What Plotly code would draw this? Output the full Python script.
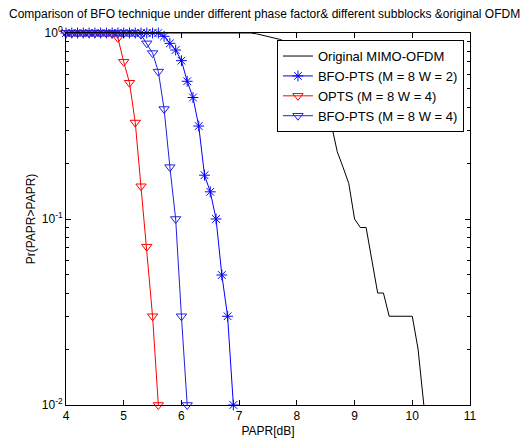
import plotly.graph_objects as go

# ---- data ----
orig_x = [4.0, 7.2, 7.3, 7.4, 7.5, 7.6, 7.7, 7.8, 7.9, 8.0, 8.1, 8.2, 8.3, 8.4, 8.5,
          8.6, 8.7, 8.8, 8.9, 9.0, 9.1, 9.2, 9.3, 9.4, 9.5, 9.6, 9.7, 9.8, 9.9,
          10.0, 10.1, 10.2]
orig_y = [1.0, 1.0, 0.99, 0.975, 0.96, 0.945, 0.925, 0.90, 0.86, 0.81, 0.75, 0.68,
          0.60, 0.50, 0.41, 0.32, 0.23, 0.19, 0.155, 0.10, 0.09, 0.09, 0.06, 0.04,
          0.04, 0.03, 0.03, 0.03, 0.03, 0.03, 0.02, 0.01]

bfo2_x = [4.0, 4.1, 4.2, 4.3, 4.4, 4.5, 4.6, 4.7, 4.8, 4.9, 5.0, 5.1, 5.2, 5.3, 5.4,
          5.5, 5.6, 5.7, 5.8, 5.9, 6.0, 6.1, 6.2, 6.3, 6.4, 6.5, 6.6, 6.7, 6.8, 6.9]
bfo2_y = [1, 1, 1, 1, 1, 1, 1, 1, 1, 1, 1, 1, 1, 1, 1, 1, 1,
          0.96, 0.88, 0.81, 0.71, 0.55, 0.45, 0.316, 0.172, 0.14, 0.10, 0.05, 0.03, 0.01]

opts_x = [4.0, 4.1, 4.2, 4.3, 4.4, 4.5, 4.6, 4.7, 4.8, 4.9, 5.0, 5.1, 5.2, 5.3, 5.4,
          5.5, 5.6]
opts_y = [1, 1, 1, 1, 1, 1, 1, 1, 0.99, 0.94, 0.70, 0.54, 0.33, 0.15, 0.071, 0.03, 0.01]

bfo4_x = [4.0, 4.1, 4.2, 4.3, 4.4, 4.5, 4.6, 4.7, 4.8, 4.9, 5.0, 5.1, 5.2, 5.3, 5.4,
          5.5, 5.6, 5.7, 5.8, 5.9, 6.0, 6.1]
bfo4_y = [1, 1, 1, 1, 1, 1, 1, 1, 1, 1, 1, 1, 1,
          0.98, 0.88, 0.78, 0.62, 0.39, 0.19, 0.10, 0.03, 0.01]

x_ticks = [4, 5, 6, 7, 8, 9, 10, 11]
y_ticks = [0.01, 0.1, 1]
y_ticktext = ["10<sup>-2</sup>", "10<sup>-1</sup>", "10<sup>0</sup>"]
y_minor = [0.02, 0.03, 0.04, 0.05, 0.06, 0.07, 0.08, 0.09,
           0.2, 0.3, 0.4, 0.5, 0.6, 0.7, 0.8, 0.9]

FONT = "Liberation Sans, Arial, Helvetica, sans-serif"

fig = go.Figure()
fig.add_trace(go.Scatter(x=orig_x, y=orig_y, mode="lines", name="Original MIMO-OFDM",
                         line=dict(color="black", width=1), cliponaxis=True))
fig.add_trace(go.Scatter(x=bfo2_x, y=bfo2_y, mode="lines+markers",
                         name="BFO-PTS (M = 8 W = 2)",
                         line=dict(color="#0000ff", width=1),
                         marker=dict(symbol="asterisk-open", size=9,
                                     line=dict(color="#0000ff", width=1)),
                         cliponaxis=False))
fig.add_trace(go.Scatter(x=opts_x, y=opts_y, mode="lines+markers",
                         name="OPTS (M = 8 W = 4)",
                         line=dict(color="#ff0000", width=1),
                         marker=dict(symbol="triangle-down-open", size=9,
                                     line=dict(color="#ff0000", width=1)),
                         cliponaxis=False))
fig.add_trace(go.Scatter(x=bfo4_x, y=bfo4_y, mode="lines+markers",
                         name="BFO-PTS (M = 8 W = 4)",
                         line=dict(color="#2020e0", width=1),
                         marker=dict(symbol="triangle-down-open", size=9,
                                     line=dict(color="#2020e0", width=1)),
                         cliponaxis=False))

axis_common = dict(showline=True, linecolor="black", linewidth=1, mirror="ticks",
                   ticks="inside", ticklen=5, tickcolor="black", showgrid=False,
                   zeroline=False, automargin=False,
                   tickfont=dict(family=FONT, size=12, color="black"))

fig.update_layout(
    width=532, height=443,
    paper_bgcolor="white", plot_bgcolor="white",
    margin=dict(l=66, r=62, t=33, b=38),
    font=dict(family=FONT, size=12, color="black"),
    title=dict(text="Comparison of BFO technique under different phase factor& different subblocks &original OFDM",
               xref="container", x=9 / 532, xanchor="left",
               yref="container", y=1 - 14 / 443, yanchor="middle",
               font=dict(family=FONT, size=12, color="black")),
    xaxis=dict(range=[4, 11], tickvals=x_ticks, title=dict(text="PAPR[dB]", standoff=4,
               font=dict(family=FONT, size=12)), **axis_common),
    yaxis=dict(type="log", range=[-2, 0], tickvals=y_ticks, ticktext=y_ticktext,
               title=dict(text="Pr(PAPR>PAPR)", standoff=3, font=dict(family=FONT, size=12)),
               minor=dict(tickvals=y_minor, ticks="inside", ticklen=3, tickcolor="black"),
               **axis_common),
    legend=dict(x=0.985, xanchor="right", y=0.981, yanchor="top",
                bgcolor="white", bordercolor="black", borderwidth=1,
                font=dict(family=FONT, size=13, color="black"),
                tracegroupgap=0),
    showlegend=True,
)

fig.write_html("out.html", config={"displayModeBar": False},
               post_script="document.body.style.margin='0';document.body.style.overflow='hidden';")
